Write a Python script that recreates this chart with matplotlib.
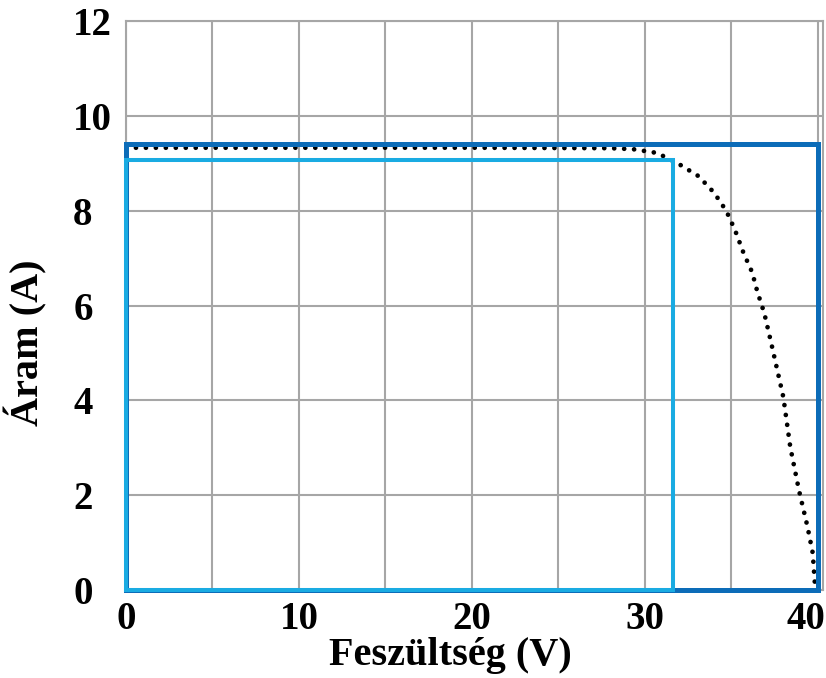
import matplotlib
matplotlib.use("Agg")
import matplotlib.pyplot as plt
from matplotlib.transforms import ScaledTranslation

# I-V görbe (leolvasott pontok)
voltage = [0, 10, 20, 28, 29.3, 30.7, 31.9, 33.1, 34.0, 34.7, 35.2, 35.7,
           36.2, 36.5, 36.9, 37.3, 38.0, 38.4, 38.9, 39.4, 39.7, 39.85]
current = [9.33, 9.33, 9.33, 9.32, 9.3, 9.22, 9.0, 8.73, 8.38, 8.0, 7.6, 7.11,
           6.7, 6.29, 5.84, 5.21, 4.07, 3.02, 2.11, 1.33, 0.78, 0.0]

# Isc / Voc téglalap és MPP téglalap
v_oc, i_sc = 40.0, 9.41
v_mp, i_mp = 31.6, 9.07

x_ticks = [0, 10, 20, 30, 40]
y_ticks = [0, 2, 4, 6, 8, 10, 12]

dark_blue = '#0c6cb8'
light_blue = '#1aabe2'

plt.rcParams['font.family'] = ['Liberation Serif', 'DejaVu Serif']

fig = plt.figure(figsize=(8.26, 6.78), dpi=100)
ax = fig.add_axes([0.1525, 0.1298, 0.844, 0.839])

ax.set_xlim(0, 40.3)
ax.set_ylim(0, 12)

ax.set_xticks(x_ticks)
ax.set_xticks([5, 15, 25, 35], minor=True)
ax.set_yticks(y_ticks)
ax.grid(True, which='both', color='#a6a6a6', linewidth=1.5)
ax.set_axisbelow(True)
ax.tick_params(which='both', length=0, labelsize=28)
ax.tick_params(axis='x', pad=8)
ax.tick_params(axis='y', pad=38)
for lab in ax.get_xticklabels() + ax.get_yticklabels():
    lab.set_fontweight('bold')
for lab in ax.get_yticklabels():
    lab.set_horizontalalignment('left')
# az utolsó x felirat kissé balra tolva, mint az eredetin
last = ax.get_xticklabels()[-1]
last.set_transform(last.get_transform() + ScaledTranslation(-0.12, 0, fig.dpi_scale_trans))

for s in ax.spines.values():
    s.set_color('#a6a6a6')
    s.set_linewidth(1.5)

ax.plot(voltage, current, color='black', linestyle=(0, (0.01, 2.1)),
        linewidth=3.4, dash_capstyle='round', zorder=3)

ax.plot([0, 0, v_oc, v_oc, 0], [0, i_sc, i_sc, 0, 0], color=dark_blue,
        linewidth=3.6, solid_joinstyle='miter', zorder=4, clip_on=False)
ax.plot([0, 0, v_mp, v_mp, 0], [0, i_mp, i_mp, 0, 0], color=light_blue,
        linewidth=2.9, solid_joinstyle='miter', zorder=5, clip_on=False)

ax.set_xlabel('Feszültség (V)', fontsize=29, fontweight='bold')
ax.set_ylabel('Áram (A)', fontsize=29, fontweight='bold')
ax.xaxis.set_label_coords(0.466, -0.082)
ax.yaxis.set_label_coords(-0.113, 0.434)

fig.savefig('out.png', dpi=100)
